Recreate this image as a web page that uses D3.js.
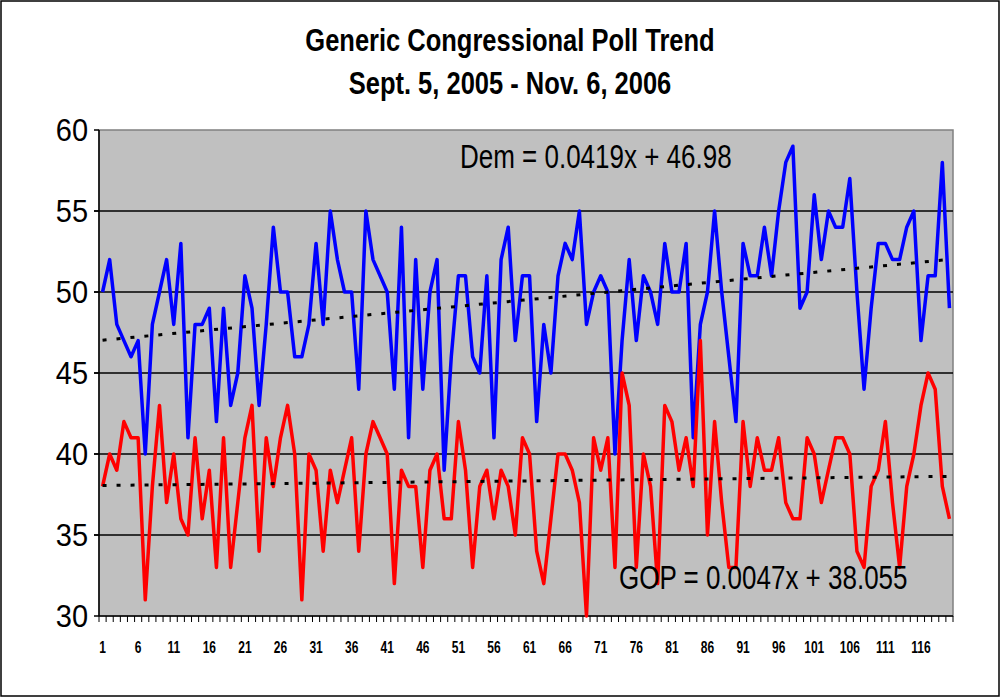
<!DOCTYPE html>
<html>
<head>
<meta charset="utf-8">
<script src="https://cdn.jsdelivr.net/npm/d3@7/dist/d3.min.js"></script>
<style>
  body { margin: 0; background: #fff; }
  svg text { font-family: "Liberation Sans", Arial, sans-serif; }
</style>
</head>
<body>
<div id="chart"></div>
<script>
// chart data
var titleLines = ["Generic Congressional Poll Trend", "Sept. 5, 2005 - Nov. 6, 2006"]
var dem = [50,52,48,47,46,47,40,48,50,52, 48,53,41,48,48,49,42,49,43,45,
           51,49,43,48,54,50,50,46,46,48, 53,48,55,52,50,50,44,55,52,51,
           50,44,54,41,52,44,50,52,39,46, 51,51,46,45,51,41,52,54,47,51,
           51,42,48,45,51,53,52,55,48,50, 51,50,40,47,52,47,51,50,48,53,
           50,50,53,41,48,50,55,50,46,42, 53,51,51,54,51,55,58,59,49,50,
           56,52,55,54,54,57,50,44,49,53, 53,52,52,54,55,47,51,51,58,49]
var gop = [38,40,39,42,41,41,31,38,43,37, 40,36,35,41,36,39,33,41,33,37,
           41,43,34,41,38,41,43,40,31,40, 39,34,39,37,39,41,34,40,42,41,
           40,32,39,38,38,33,39,40,36,36, 42,39,33,38,39,36,39,38,35,41,
           40,34,32,36,40,40,39,37,30,41, 39,41,33,45,43,33,40,38,32,43,
           42,39,41,38,47,35,42,37,33,33, 42,38,41,39,39,41,37,36,36,41,
           40,37,39,41,41,40,34,33,38,39, 42,37,33,38,40,43,45,44,38,36]
var yTicks = [30, 35, 40, 45, 50, 55, 60]
var xLabelStep = 5
// linear trend lines as printed on the chart
var demTrend = [0.0419, 46.98]
var gopTrend = [0.0047, 38.055]
var demLabel = "Dem = 0.0419x + 46.98"
var gopLabel = "GOP = 0.0047x + 38.055"

var width = 1001
var height = 698

var svg = d3.select("#chart")
  .append("svg")
    .attr("width", width)
    .attr("height", height)

svg.append("rect")
    .attr("x", 1).attr("y", 1)
    .attr("width", width - 3).attr("height", height - 3)
    .attr("fill", "#fff")
    .attr("stroke", "#000")
    .attr("stroke-width", 1.5)

var n = dem.length
var x = d3.scaleLinear().domain([0.5, n + 0.5]).range([99, 953])
var y = d3.scaleLinear().domain([30, 60]).range([616, 130])

// text in the original is a little taller than it is wide
function label(g, px, py, txt, size, weight, anchor, stretch) {
  return g.append("text")
      .attr("transform", "translate(" + px + "," + py + ") scale(1," + stretch + ")")
      .attr("font-size", size)
      .attr("font-weight", weight)
      .attr("text-anchor", anchor)
      .attr("fill", "#000")
      .text(txt)
}

// title
titleLines.forEach(function(t, i) {
  label(svg, 510, 51 + i * 43, t, 25.5, "bold", "middle", 1.2)
})

// plot area
svg.append("rect")
    .attr("x", x.range()[0]).attr("y", y(60))
    .attr("width", x.range()[1] - x.range()[0])
    .attr("height", y(30) - y(60))
    .attr("fill", "#c0c0c0")
    .attr("stroke", "#808080")
    .attr("stroke-width", 1.5)

// gridlines
svg.append("g")
  .selectAll("line")
  .data(yTicks.filter(d => d > 30 && d < 60))
  .join("line")
    .attr("x1", x.range()[0] - 5).attr("x2", x.range()[1])
    .attr("y1", d => y(d)).attr("y2", d => y(d))
    .attr("stroke", "#000")
    .attr("stroke-width", 1.5)

var yAxis = svg.append("g")
yAxis.append("line")
    .attr("x1", x.range()[0]).attr("x2", x.range()[0])
    .attr("y1", y(60)).attr("y2", y(30))
    .attr("stroke", "#000").attr("stroke-width", 1.5)
yAxis.selectAll(".tk")
  .data(yTicks)
  .join("line")
    .attr("class", "tk")
    .attr("x1", x.range()[0] - 5).attr("x2", x.range()[0])
    .attr("y1", d => y(d)).attr("y2", d => y(d))
    .attr("stroke", "#000").attr("stroke-width", 1.5)
yTicks.forEach(function(d) {
  label(yAxis, 88, y(d) + 11, d, 29, "normal", "end", 1.08)
})

// x axis, ticks sit between categories
var xAxis = svg.append("g")
xAxis.append("line")
    .attr("x1", x.range()[0]).attr("x2", x.range()[1])
    .attr("y1", y(30)).attr("y2", y(30))
    .attr("stroke", "#000").attr("stroke-width", 1.5)
xAxis.selectAll(".tk")
  .data(d3.range(0, n + 1))
  .join("line")
    .attr("class", "tk")
    .attr("x1", d => x(d + 0.5)).attr("x2", d => x(d + 0.5))
    .attr("y1", y(30)).attr("y2", y(30) + 6)
    .attr("stroke", "#000").attr("stroke-width", 1)
d3.range(1, n + 1, xLabelStep).forEach(function(d) {
  label(xAxis, x(d), 653, d, 12, "bold", "middle", 1.3)
})

// series
var line = d3.line()
    .x((d, i) => x(i + 1))
    .y(d => y(d))

svg.append("path")
    .datum(dem)
    .attr("d", line)
    .attr("fill", "none")
    .attr("stroke", "#0000ff")
    .attr("stroke-width", 3.5)
    .attr("stroke-linejoin", "round")

svg.append("path")
    .datum(gop)
    .attr("d", line)
    .attr("fill", "none")
    .attr("stroke", "#ff0000")
    .attr("stroke-width", 3.5)
    .attr("stroke-linejoin", "round")

// trend lines
;[demTrend, gopTrend].forEach(function(t) {
  svg.append("line")
      .attr("x1", x(1)).attr("y1", y(t[0] * 1 + t[1]))
      .attr("x2", x(n)).attr("y2", y(t[0] * n + t[1]))
      .attr("stroke", "#000")
      .attr("stroke-width", 3)
      .attr("stroke-dasharray", "4,10")
})

label(svg, 460, 168, demLabel, 26, "normal", "start", 1.3)
label(svg, 619, 589, gopLabel, 26, "normal", "start", 1.3)
</script>
</body>
</html>
